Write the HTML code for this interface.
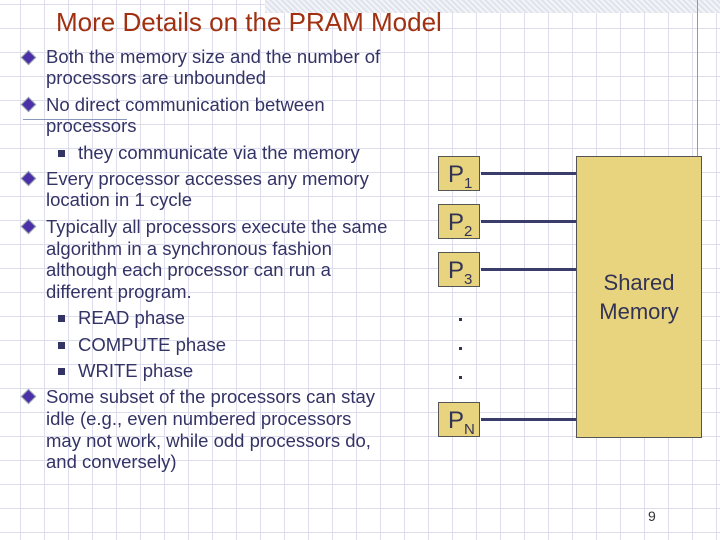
<!DOCTYPE html>
<html><head><meta charset="utf-8"><style>
body{margin:0;width:720px;height:540px;overflow:hidden;position:relative;font-family:"Liberation Sans",sans-serif;color:#333366;
background-color:#fff;background-image:linear-gradient(to right,#dde 1px,transparent 1px),linear-gradient(to bottom,#dde 1px,transparent 1px);background-size:24px 24px;background-position:-4px 4px}
.t{position:absolute;white-space:nowrap;font-size:18.5px;line-height:20px}
.d{position:absolute;width:9px;height:9px;background:#4b2fa8;border:1px solid #9aa;transform:rotate(45deg)}
.s{position:absolute;width:7px;height:7px;background:#336}
.p{position:absolute;left:438px;width:42px;height:35px;background:#e8d47e;border:1px solid #555;font-size:24px;line-height:35px;box-sizing:border-box;padding-left:9px;color:#333355}
.p sub{font-size:15px;vertical-align:-6px}
.l{position:absolute;left:481px;width:95px;height:3px;background:#3a3d6a}
.dot{position:absolute;left:459px;width:3px;height:3px;background:#333355}
</style></head><body>
<div style="position:absolute;left:265px;top:0;width:455px;height:13px;background:repeating-linear-gradient(45deg,#dfe3ec 0 2px,#f3f4f8 2px 4px)"></div>
<div style="position:absolute;left:697px;top:0;width:1px;height:156px;background:#8899bb"></div>
<div style="position:absolute;left:23px;top:119px;width:104px;height:1px;background:#8899bb"></div>
<div style="position:absolute;left:56px;top:7px;font-size:26px;color:#a03010;white-space:nowrap">More Details on the PRAM Model</div>
<div class="d" style="left:23px;top:52px"></div>
<div class="t" style="left:46px;top:47px">Both the memory size and the number of</div>
<div class="t" style="left:46px;top:68px">processors are unbounded</div>
<div class="d" style="left:23px;top:99px"></div>
<div class="t" style="left:46px;top:95px">No direct communication between</div>
<div class="t" style="left:46px;top:116px">processors</div>
<div class="s" style="left:58px;top:150px"></div>
<div class="t" style="left:78px;top:143px">they communicate via the memory</div>
<div class="d" style="left:23px;top:173px"></div>
<div class="t" style="left:46px;top:169px">Every processor accesses any memory</div>
<div class="t" style="left:46px;top:190px">location in 1 cycle</div>
<div class="d" style="left:23px;top:221px"></div>
<div class="t" style="left:46px;top:217px">Typically all processors execute the same</div>
<div class="t" style="left:46px;top:239px">algorithm in a synchronous fashion</div>
<div class="t" style="left:46px;top:260px">although each processor can run a</div>
<div class="t" style="left:46px;top:282px">different program.</div>
<div class="s" style="left:58px;top:315px"></div>
<div class="t" style="left:78px;top:308px">READ phase</div>
<div class="s" style="left:58px;top:342px"></div>
<div class="t" style="left:78px;top:335px">COMPUTE phase</div>
<div class="s" style="left:58px;top:368px"></div>
<div class="t" style="left:78px;top:361px">WRITE phase</div>
<div class="d" style="left:23px;top:391px"></div>
<div class="t" style="left:46px;top:387px">Some subset of the processors can stay</div>
<div class="t" style="left:46px;top:409px">idle (e.g., even numbered processors</div>
<div class="t" style="left:46px;top:431px">may not work, while odd processors do,</div>
<div class="t" style="left:46px;top:452px">and conversely)</div>
<div class="p" style="top:156px">P<sub>1</sub></div>
<div class="p" style="top:204px">P<sub>2</sub></div>
<div class="p" style="top:252px">P<sub>3</sub></div>
<div class="p" style="top:402px">P<sub>N</sub></div>
<div class="l" style="top:172px"></div><div class="l" style="top:220px"></div><div class="l" style="top:268px"></div><div class="l" style="top:418px"></div>
<div class="dot" style="top:318px"></div><div class="dot" style="top:347px"></div><div class="dot" style="top:376px"></div>
<div style="position:absolute;left:576px;top:156px;width:126px;height:282px;background:#e8d47e;border:1px solid #555;box-sizing:border-box;display:flex;align-items:center;justify-content:center;text-align:center;font-size:22px;line-height:29px;color:#333355">Shared<br>Memory</div>
<div style="position:absolute;left:648px;top:508px;font-size:14px;color:#333">9</div>
</body></html>
